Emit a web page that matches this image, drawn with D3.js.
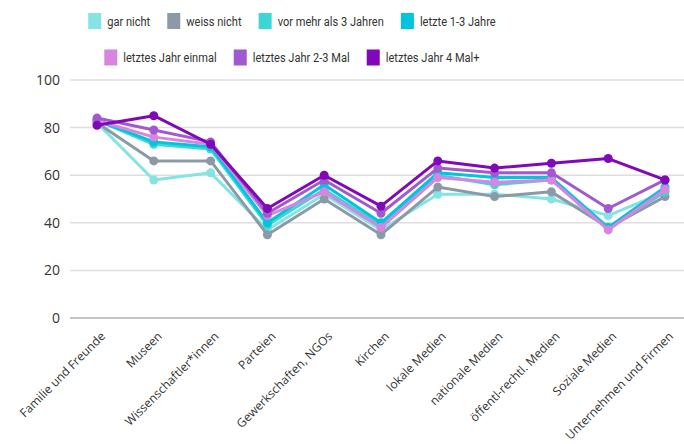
<!DOCTYPE html>
<html>
<head>
<meta charset="utf-8">
<script src="https://cdn.jsdelivr.net/npm/d3@7"></script>
<style>
  body { margin: 0; background: #fff; }
  svg text { font-family: "Open Sans", "Noto Sans", sans-serif; }
</style>
</head>
<body>
<div class="chart"></div>
<script>
var categories = ["Familie und Freunde", "Museen", "Wissenschaftler*innen", "Parteien",
  "Gewerkschaften, NGOs", "Kirchen", "lokale Medien", "nationale Medien",
  "öffentl-rechtl. Medien", "Soziale Medien", "Unternehmen und Firmen"];

var seriesNames = ["gar nicht", "weiss nicht", "vor mehr als 3 Jahren", "letzte 1-3 Jahre",
  "letztes Jahr einmal", "letztes Jahr 2-3 Mal", "letztes Jahr 4 Mal+"];

var garNicht     = [82, 58, 61, 37, 52, 37, 52, 52, 50, 43, 53];
var weissNicht   = [82, 66, 66, 35, 50, 35, 55, 51, 53, 38, 51];
var vorMehr      = [83, 73, 71, 39, 54, 39, 60, 56, 58, 38, 53];
var letzte13     = [83, 74, 72, 40, 56, 40, 61, 59, 59, 38, 55];
var jahrEinmal   = [83, 76, 73, 43, 53, 38, 59, 57, 58, 37, 54];
var jahr23       = [84, 79, 74, 44, 58, 44, 63, 61, 61, 46, 58];
var jahr4        = [81, 85, 73, 46, 60, 47, 66, 63, 65, 67, 58];

var seriesValues = [garNicht, weissNicht, vorMehr, letzte13, jahrEinmal, jahr23, jahr4];
var colors = ["#84e4e4", "#8c99a6", "#3dd6d6", "#00c5dc", "#d785e0", "#a259d0", "#8008b8"];
var yTicks = [0, 20, 40, 60, 80, 100];

var svgWidth = 684, svgHeight = 444;

var svg = d3.select(".chart").append("svg")
  .attr("width", svgWidth)
  .attr("height", svgHeight);

var x = d3.scalePoint().domain(categories).range([97, 665]);
var y = d3.scaleLinear().domain([0, 100]).range([318, 80]);

// gridlines + y labels
svg.append("g").selectAll("line")
  .data(yTicks)
  .enter().append("line")
  .attr("x1", 70).attr("x2", 684)
  .attr("y1", function(d) { return y(d); })
  .attr("y2", function(d) { return y(d); })
  .attr("stroke", function(d) { return d === 0 ? "#c4c4c4" : "#dedede"; })
  .attr("stroke-width", function(d) { return d === 0 ? 2 : 1.5; });

svg.append("g").selectAll("text")
  .data(yTicks)
  .enter().append("text")
  .attr("x", 60)
  .attr("y", function(d) { return y(d); })
  .attr("dy", "0.35em")
  .attr("text-anchor", "end")
  .attr("font-size", 14)
  .attr("fill", "#333")
  .text(function(d) { return d; });

// x labels, rotated
svg.append("g").selectAll("text")
  .data(categories)
  .enter().append("text")
  .attr("transform", function(d) { return "translate(" + (x(d) + 6) + ",334) rotate(-45)"; })
  .attr("text-anchor", "end")
  .attr("dy", "0.35em")
  .attr("font-size", 12)
  .attr("fill", "#333")
  .text(function(d) { return d; });

// lines
var line = d3.line()
  .x(function(d, i) { return x(categories[i]); })
  .y(function(d) { return y(d); });

seriesValues.forEach(function(vals, s) {
  var g = svg.append("g");
  g.append("path")
    .datum(vals)
    .attr("d", line)
    .attr("fill", "none")
    .attr("stroke", colors[s])
    .attr("stroke-width", 3)
    .attr("stroke-linejoin", "round");
  g.selectAll("circle")
    .data(vals)
    .enter().append("circle")
    .attr("cx", function(d, i) { return x(categories[i]); })
    .attr("cy", function(d) { return y(d); })
    .attr("r", 4.5)
    .attr("fill", colors[s]);
});

// legend, two rows centred; text squeezed to mimic the condensed font
var legendRows = [[0, 1, 2, 3], [4, 5, 6]];
var rowY = [21, 57.5];
var squeeze = 0.82;
var legend = svg.append("g");
legendRows.forEach(function(row, r) {
  var items = row.map(function(idx) {
    var t = legend.append("text")
      .attr("font-size", 13.5)
      .attr("fill", "#333")
      .style("font-family", "Roboto, sans-serif")
      .attr("dy", "0.35em")
      .text(seriesNames[idx]);
    return { idx: idx, t: t, w: t.node().getComputedTextLength() * squeeze };
  });
  var total = d3.sum(items, function(d) { return 13 + 6 + d.w; }) + 17 * (items.length - 1);
  var cx = 292 - total / 2;
  items.forEach(function(d) {
    legend.append("rect")
      .attr("x", cx).attr("y", rowY[r] - 8)
      .attr("width", 13).attr("height", 16)
      .attr("fill", colors[d.idx]);
    d.t.attr("transform", "translate(" + (cx + 19) + "," + rowY[r] + ") scale(" + squeeze + ",1)");
    cx += 19 + d.w + 17;
  });
});
</script>
</body>
</html>
